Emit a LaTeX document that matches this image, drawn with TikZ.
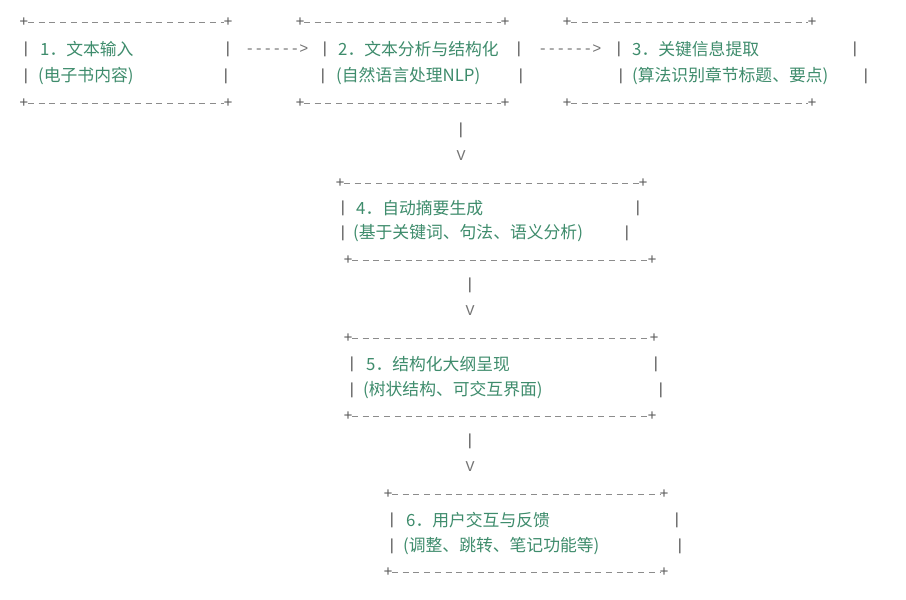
\documentclass[tikz,border=0pt]{standalone}
\usepackage{fontspec}
\setmonofont{Liberation Mono}
\newfontfamily\cjk{Noto Sans CJK SC}
\definecolor{tgreen}{RGB}{62,140,108}
\begin{document}
\begin{tikzpicture}[x=1pt,y=-1pt,
  pipe/.style={text=black!65,font=\ttfamily\fontsize{16}{16}\selectfont,inner sep=0},
  plus/.style={text=black!65,font=\ttfamily\fontsize{15}{15}\selectfont,inner sep=0},
  hdash/.style={draw=black!45,line width=0.9pt,dash pattern=on 6pt off 4.7pt},
  txt/.style={text=tgreen,font=\cjk\fontsize{16.8}{16.8}\selectfont,anchor=west,inner sep=0},
  arr/.style={text=black!55,font=\ttfamily\fontsize{15}{15}\selectfont,inner sep=0}]
\fill[white] (0,0) rectangle (906,600);
\useasboundingbox (0,0) rectangle (906,600);
\newcommand\hb[4]{\node[plus] (#1a) at (#2,#4) {+}; \node[plus] (#1b) at (#3,#4) {+};
  \draw[hdash] ([xshift=4pt]#1a.center) -- ([xshift=-4pt]#1b.center);}
\newcommand\pp[3]{\node[pipe] (#1) at (#2,#3) {|};}
% Box 1
\hb{b1t}{24}{228}{22}\hb{b1b}{24}{228}{103}
\pp{b1l1}{26}{49}\pp{b1l2}{26}{76}\pp{b1r1}{228}{49}\pp{b1r2}{226}{76}
\node[txt] (t1a) at (40,49) {1．文本输入};
\node[txt] (t1b) at (38,76) {(电子书内容)};
% Box 2
\hb{b2t}{300}{505}{22}\hb{b2b}{300}{505}{103}
\pp{b2l1}{325}{49}\pp{b2l2}{323}{76}\pp{b2r1}{519}{49}\pp{b2r2}{521}{76}
\node[txt] (t2a) at (338,49) {2．文本分析与结构化};
\node[txt] (t2b) at (336,76) {(自然语言处理NLP)};
% Box 3
\hb{b3t}{567}{812}{22}\hb{b3b}{567}{812}{103}
\pp{b3l1}{619}{49}\pp{b3l2}{621}{76}\pp{b3r1}{855}{49}\pp{b3r2}{866}{76}
\node[txt] (t3a) at (632,49) {3．关键信息提取};
\node[txt] (t3b) at (632,76) {(算法识别章节标题、要点)};
% arrows
\node[arr] (a12) at (277,49) {------>};
\node[arr] (a23) at (570,49) {------>};
\node[pipe] (v1) at (461,130) {|};\node[arr] (v1h) at (461,156) {V};
% Box 4
\hb{b4t}{340}{643}{183}\hb{b4b}{348}{652}{260}
\pp{b4l1}{343}{208}\pp{b4l2}{343}{233}\pp{b4r1}{638}{208}\pp{b4r2}{627}{233}
\node[txt] (t4a) at (356,208) {4．自动摘要生成};
\node[txt] (t4b) at (353,233) {(基于关键词、句法、语义分析)};
\node[pipe] (v2) at (470,285) {|};\node[arr] (v2h) at (470,311) {V};
% Box 5
\hb{b5t}{348}{654}{338}\hb{b5b}{348}{652}{416}
\pp{b5l1}{352}{364}\pp{b5l2}{352}{390}\pp{b5r1}{656}{364}\pp{b5r2}{661}{390}
\node[txt] (t5a) at (366,364) {5．结构化大纲呈现};
\node[txt] (t5b) at (363,390) {(树状结构、可交互界面)};
\node[pipe] (v3) at (470,441) {|};\node[arr] (v3h) at (470,467) {V};
% Box 6
\hb{b6t}{388}{664}{494}\hb{b6b}{388}{664}{572}
\pp{b6l1}{392}{520}\pp{b6l2}{392}{546}\pp{b6r1}{677}{520}\pp{b6r2}{680}{546}
\node[txt] (t6a) at (406,520) {6．用户交互与反馈};
\node[txt] (t6b) at (403,546) {(调整、跳转、笔记功能等)};
\end{tikzpicture}
\end{document}
